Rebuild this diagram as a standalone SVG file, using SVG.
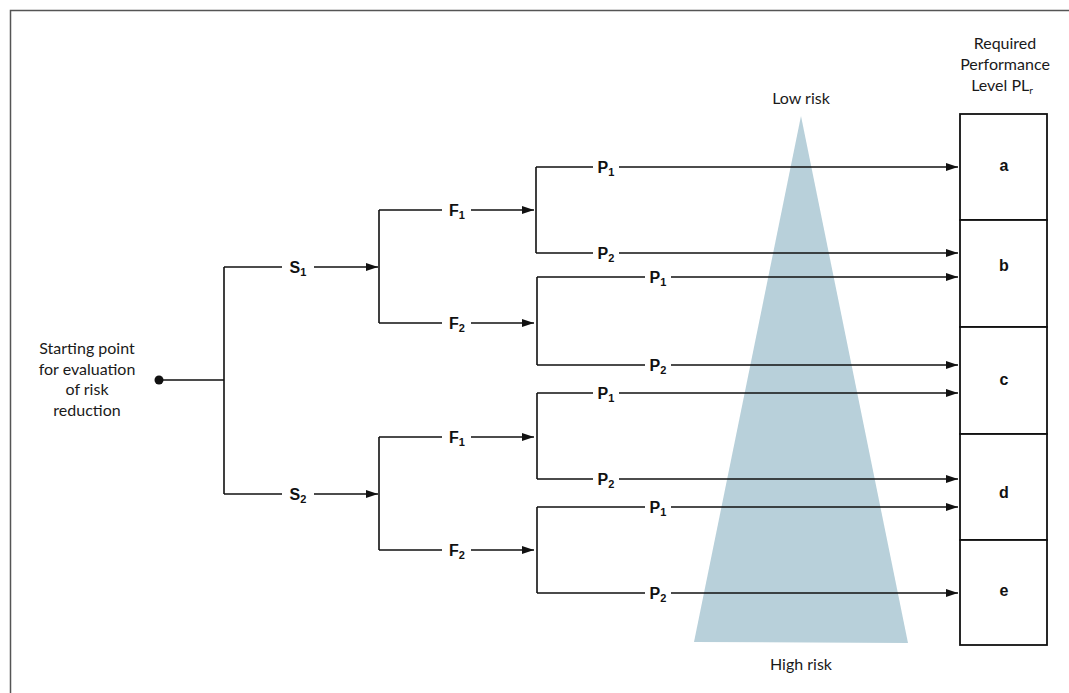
<svg xmlns="http://www.w3.org/2000/svg" width="1069" height="693" viewBox="0 0 1069 693">
  <defs>
    <marker id="arrow" viewBox="0 0 12 8" refX="12" refY="4" markerWidth="12" markerHeight="8" markerUnits="userSpaceOnUse" orient="auto">
      <path d="M0,0 L12,4 L0,8 Z" fill="#111"/>
    </marker>
    <style>
      .ln { fill: none; stroke: #111; stroke-width: 1.6; }
      .ar { fill: none; stroke: #111; stroke-width: 1.6; marker-end: url(#arrow); }
      .lbl { font-family: "Liberation Sans", Arial, sans-serif; font-weight: bold; font-size: 16px; fill: #111; text-anchor: middle; }
      .sub { font-size: 11px; }
      .txt { font-family: Lato, "Open Sans", sans-serif; font-size: 16px; fill: #1a1a1a; text-anchor: middle; }
      .box { fill: #fff; stroke: #111; stroke-width: 1.8; }
    </style>
  </defs>
  <rect width="1069" height="693" fill="#fff"/>

  <!-- outer frame -->
  <path d="M10.5,693 V10.5 H1069" fill="none" stroke="#555" stroke-width="1.5"/>

  <!-- risk wedge -->
  <polygon id="risk-wedge" points="801,116 908,643 694,642" fill="#b8d0da"/>
  <text class="txt" x="801" y="104">Low risk</text>
  <text class="txt" x="801" y="670">High risk</text>

  <!-- start node -->
  <g id="start">
    <circle cx="159" cy="380" r="4.5" fill="#111"/>
    <text class="txt" x="87" y="354">Starting point</text>
    <text class="txt" x="87" y="375">for evaluation</text>
    <text class="txt" x="87" y="395">of risk</text>
    <text class="txt" x="87" y="416">reduction</text>
  </g>

  <g id="connectors">
    <!-- severity branch -->
    <path class="ln" d="M159,380 H224 M224,267 V494"/>
    <path class="ln" d="M224,267 H282"/>
    <path class="ar" d="M314,267 H378"/>
    <path class="ln" d="M224,494 H282"/>
    <path class="ar" d="M314,494 H378"/>

    <!-- frequency branches -->
    <path class="ln" d="M379,210 V323 M379,210 H442 M379,323 H442"/>
    <path class="ar" d="M471,210 H534"/>
    <path class="ar" d="M471,323 H534"/>
    <path class="ln" d="M379,437 V550 M379,437 H442 M379,550 H442"/>
    <path class="ar" d="M471,437 H534"/>
    <path class="ar" d="M471,550 H534"/>

    <!-- possibility branches -->
    <path class="ln" d="M536,167 V253 M536,167 H593 M536,253 H593"/>
    <path class="ar" d="M619,167 H958"/>
    <path class="ar" d="M619,253 H958"/>

    <path class="ln" d="M537,277 V365 M537,277 H645 M537,365 H645"/>
    <path class="ar" d="M671,277 H958"/>
    <path class="ar" d="M671,365 H958"/>

    <path class="ln" d="M537,393 V479 M537,393 H593 M537,479 H593"/>
    <path class="ar" d="M619,393 H958"/>
    <path class="ar" d="M619,479 H958"/>

    <path class="ln" d="M537,507 V593 M537,507 H645 M537,593 H645"/>
    <path class="ar" d="M671,507 H958"/>
    <path class="ar" d="M671,593 H958"/>
  </g>

  <!-- branch labels -->
  <g id="s1"><text class="lbl" x="298" y="273">S<tspan class="sub" dy="3">1</tspan></text></g>
  <g id="s2"><text class="lbl" x="298" y="500">S<tspan class="sub" dy="3">2</tspan></text></g>
  <g id="f1-a"><text class="lbl" x="457" y="216">F<tspan class="sub" dy="3">1</tspan></text></g>
  <g id="f2-a"><text class="lbl" x="457" y="329">F<tspan class="sub" dy="3">2</tspan></text></g>
  <g id="f1-b"><text class="lbl" x="457" y="443">F<tspan class="sub" dy="3">1</tspan></text></g>
  <g id="f2-b"><text class="lbl" x="457" y="556">F<tspan class="sub" dy="3">2</tspan></text></g>
  <g id="p1-a"><text class="lbl" x="606" y="173">P<tspan class="sub" dy="3">1</tspan></text></g>
  <g id="p2-a"><text class="lbl" x="606" y="259">P<tspan class="sub" dy="3">2</tspan></text></g>
  <g id="p1-b"><text class="lbl" x="658" y="283">P<tspan class="sub" dy="3">1</tspan></text></g>
  <g id="p2-b"><text class="lbl" x="658" y="371">P<tspan class="sub" dy="3">2</tspan></text></g>
  <g id="p1-c"><text class="lbl" x="606" y="399">P<tspan class="sub" dy="3">1</tspan></text></g>
  <g id="p2-c"><text class="lbl" x="606" y="485">P<tspan class="sub" dy="3">2</tspan></text></g>
  <g id="p1-d"><text class="lbl" x="658" y="513">P<tspan class="sub" dy="3">1</tspan></text></g>
  <g id="p2-d"><text class="lbl" x="658" y="599">P<tspan class="sub" dy="3">2</tspan></text></g>

  <!-- required performance level column -->
  <g id="pl-header">
    <text class="txt" x="1005" y="49">Required</text>
    <text class="txt" x="1005" y="70">Performance</text>
    <text class="txt" x="1002" y="91">Level PL<tspan font-size="10" dy="3">r</tspan></text>
  </g>
  <g id="pl-a"><rect class="box" x="960" y="114" width="87" height="106"/><text class="lbl" x="1004" y="171" font-size="14">a</text></g>
  <g id="pl-b"><rect class="box" x="960" y="220" width="87" height="107"/><text class="lbl" x="1004" y="271" font-size="14">b</text></g>
  <g id="pl-c"><rect class="box" x="960" y="327" width="87" height="107"/><text class="lbl" x="1004" y="385" font-size="14">c</text></g>
  <g id="pl-d"><rect class="box" x="960" y="434" width="87" height="106"/><text class="lbl" x="1004" y="498" font-size="14">d</text></g>
  <g id="pl-e"><rect class="box" x="960" y="540" width="87" height="105"/><text class="lbl" x="1004" y="596" font-size="14">e</text></g>
</svg>
